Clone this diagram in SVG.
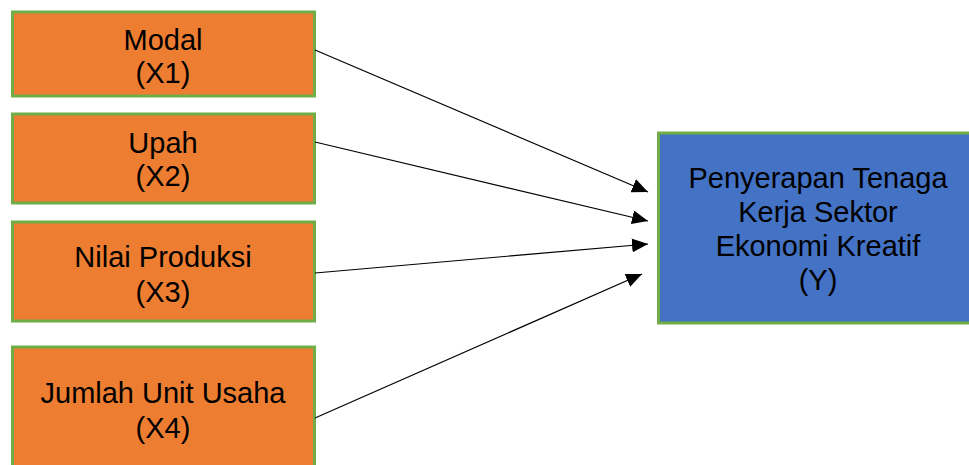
<svg xmlns="http://www.w3.org/2000/svg" width="969" height="465" viewBox="0 0 969 465">
  <style>
    .box { stroke: #70AD47; stroke-width: 3; }
    .x { fill: #ED7D31; }
    .y { fill: #4472C4; }
    .lbl { font-family: "Liberation Sans", Arial, sans-serif; font-size: 29px; fill: #000; text-anchor: middle; }
    .conn { stroke: #000; stroke-width: 1.2; fill: none; marker-end: url(#arrow); }
  </style>
  <defs>
    <marker id="arrow" markerUnits="userSpaceOnUse" markerWidth="17" markerHeight="14" refX="16" refY="7" orient="auto">
      <path d="M0,0 L16,7 L0,14 z" fill="#000"/>
    </marker>
  </defs>
  <rect width="969" height="465" fill="#fff"/>
  <g id="x1">
    <rect class="box x" x="12.5" y="12" width="302" height="84"/>
    <text class="lbl" x="163" y="50">Modal</text>
    <text class="lbl" x="163" y="83">(X1)</text>
  </g>
  <g id="x2">
    <rect class="box x" x="12.5" y="114" width="302" height="89"/>
    <text class="lbl" x="163" y="153">Upah</text>
    <text class="lbl" x="163" y="186">(X2)</text>
  </g>
  <g id="x3">
    <rect class="box x" x="12.5" y="222" width="302" height="99"/>
    <text class="lbl" x="163" y="266.5">Nilai Produksi</text>
    <text class="lbl" x="163" y="301.5">(X3)</text>
  </g>
  <g id="x4">
    <rect class="box x" x="12.5" y="347" width="302" height="130"/>
    <text class="lbl" x="163" y="403">Jumlah Unit Usaha</text>
    <text class="lbl" x="163" y="438">(X4)</text>
  </g>
  <g id="y">
    <rect class="box y" x="658.5" y="133" width="330" height="190"/>
    <text class="lbl" x="818" y="188">Penyerapan Tenaga</text>
    <text class="lbl" x="818" y="222">Kerja Sektor</text>
    <text class="lbl" x="818" y="256">Ekonomi Kreatif</text>
    <text class="lbl" x="818" y="290">(Y)</text>
  </g>
  <g id="connectors">
    <line class="conn" x1="315" y1="50" x2="648" y2="192"/>
    <line class="conn" x1="315" y1="142" x2="648" y2="221"/>
    <line class="conn" x1="315" y1="273" x2="648" y2="244"/>
    <line class="conn" x1="315" y1="418" x2="642" y2="274"/>
  </g>
</svg>
